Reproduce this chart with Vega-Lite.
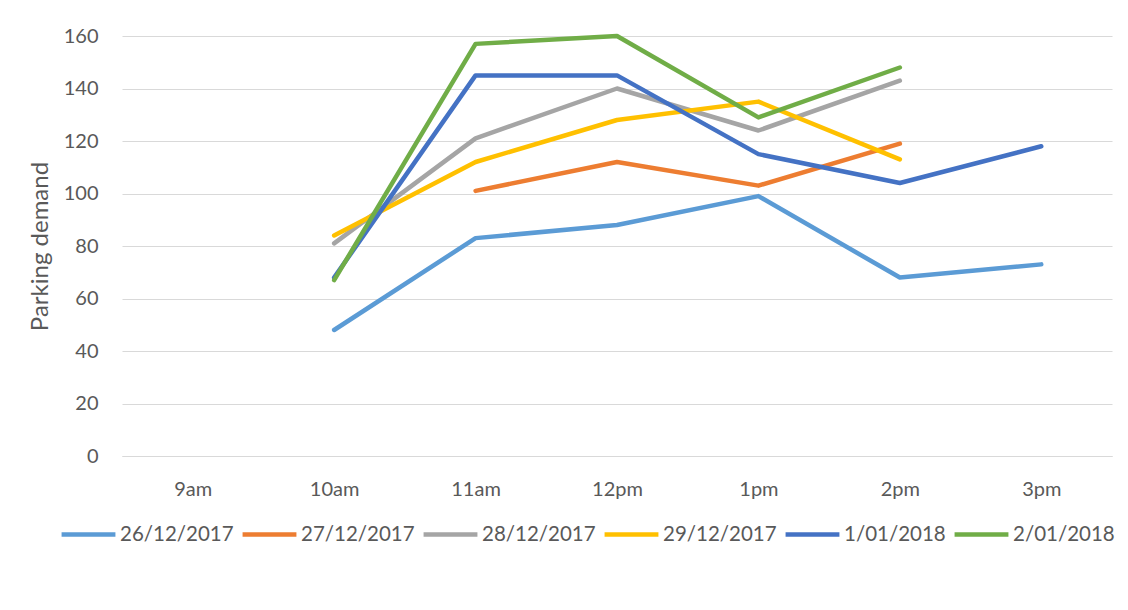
{
  "$schema": "https://vega.github.io/schema/vega-lite/v6.json",
  "width": 990,
  "height": 420,
  "autosize": "none",
  "padding": {"left": 122, "top": 36, "right": 16, "bottom": 154},
  "background": "white",
  "config": {
    "view": {"stroke": null},
    "font": "Lato",
    "axis": {"labelFont": "Lato", "titleFont": "Lato", "labelColor": "#595959", "titleColor": "#595959"}
  },
  "data": {
    "values": [
      {"time": "10am", "date": "26/12/2017", "demand": 48},
      {"time": "11am", "date": "26/12/2017", "demand": 83},
      {"time": "12pm", "date": "26/12/2017", "demand": 88},
      {"time": "1pm", "date": "26/12/2017", "demand": 99},
      {"time": "2pm", "date": "26/12/2017", "demand": 68},
      {"time": "3pm", "date": "26/12/2017", "demand": 73},
      {"time": "11am", "date": "27/12/2017", "demand": 101},
      {"time": "12pm", "date": "27/12/2017", "demand": 112},
      {"time": "1pm", "date": "27/12/2017", "demand": 103},
      {"time": "2pm", "date": "27/12/2017", "demand": 119},
      {"time": "10am", "date": "28/12/2017", "demand": 81},
      {"time": "11am", "date": "28/12/2017", "demand": 121},
      {"time": "12pm", "date": "28/12/2017", "demand": 140},
      {"time": "1pm", "date": "28/12/2017", "demand": 124},
      {"time": "2pm", "date": "28/12/2017", "demand": 143},
      {"time": "10am", "date": "29/12/2017", "demand": 84},
      {"time": "11am", "date": "29/12/2017", "demand": 112},
      {"time": "12pm", "date": "29/12/2017", "demand": 128},
      {"time": "1pm", "date": "29/12/2017", "demand": 135},
      {"time": "2pm", "date": "29/12/2017", "demand": 113},
      {"time": "10am", "date": "1/01/2018", "demand": 68},
      {"time": "11am", "date": "1/01/2018", "demand": 145},
      {"time": "12pm", "date": "1/01/2018", "demand": 145},
      {"time": "1pm", "date": "1/01/2018", "demand": 115},
      {"time": "2pm", "date": "1/01/2018", "demand": 104},
      {"time": "3pm", "date": "1/01/2018", "demand": 118},
      {"time": "10am", "date": "2/01/2018", "demand": 67},
      {"time": "11am", "date": "2/01/2018", "demand": 157},
      {"time": "12pm", "date": "2/01/2018", "demand": 160},
      {"time": "1pm", "date": "2/01/2018", "demand": 129},
      {"time": "2pm", "date": "2/01/2018", "demand": 148}
    ]
  },
  "mark": {"type": "line", "strokeWidth": 4.5, "strokeCap": "round", "strokeJoin": "round"},
  "encoding": {
    "x": {
      "field": "time",
      "type": "ordinal",
      "scale": {"type": "point", "padding": 0.5, "domain": ["9am", "10am", "11am", "12pm", "1pm", "2pm", "3pm"]},
      "axis": {
        "title": null,
        "labelAngle": 0,
        "labelFontSize": 20,
        "labelPadding": 23,
        "ticks": false,
        "domain": true,
        "domainColor": "#D9D9D9",
        "grid": false
      }
    },
    "y": {
      "field": "demand",
      "type": "quantitative",
      "scale": {"domain": [0, 160], "nice": false},
      "axis": {
        "title": "Parking demand",
        "titleFontSize": 24,
        "titleFontWeight": "normal",
        "titlePadding": 11,
        "labelFontSize": 20,
        "labelPadding": 24,
        "values": [0, 20, 40, 60, 80, 100, 120, 140, 160],
        "ticks": false,
        "domain": false,
        "grid": true,
        "gridColor": "#D9D9D9",
        "gridWidth": 1
      }
    },
    "color": {
      "field": "date",
      "type": "nominal",
      "scale": {
        "domain": ["26/12/2017", "27/12/2017", "28/12/2017", "29/12/2017", "1/01/2018", "2/01/2018"],
        "range": ["#5B9BD5", "#ED7D31", "#A5A5A5", "#FFC000", "#4472C4", "#70AD47"]
      },
      "legend": {
        "title": null,
        "orient": "none",
        "legendX": -63,
        "legendY": 469,
        "direction": "horizontal",
        "gridAlign": "none",
        "symbolType": "stroke",
        "symbolStrokeWidth": 4.5,
        "symbolSize": 2900,
        "labelFontSize": 20.5,
        "labelColor": "#595959",
        "labelFont": "Lato",
        "labelOffset": 2,
        "columnPadding": -1
      }
    }
  }
}
